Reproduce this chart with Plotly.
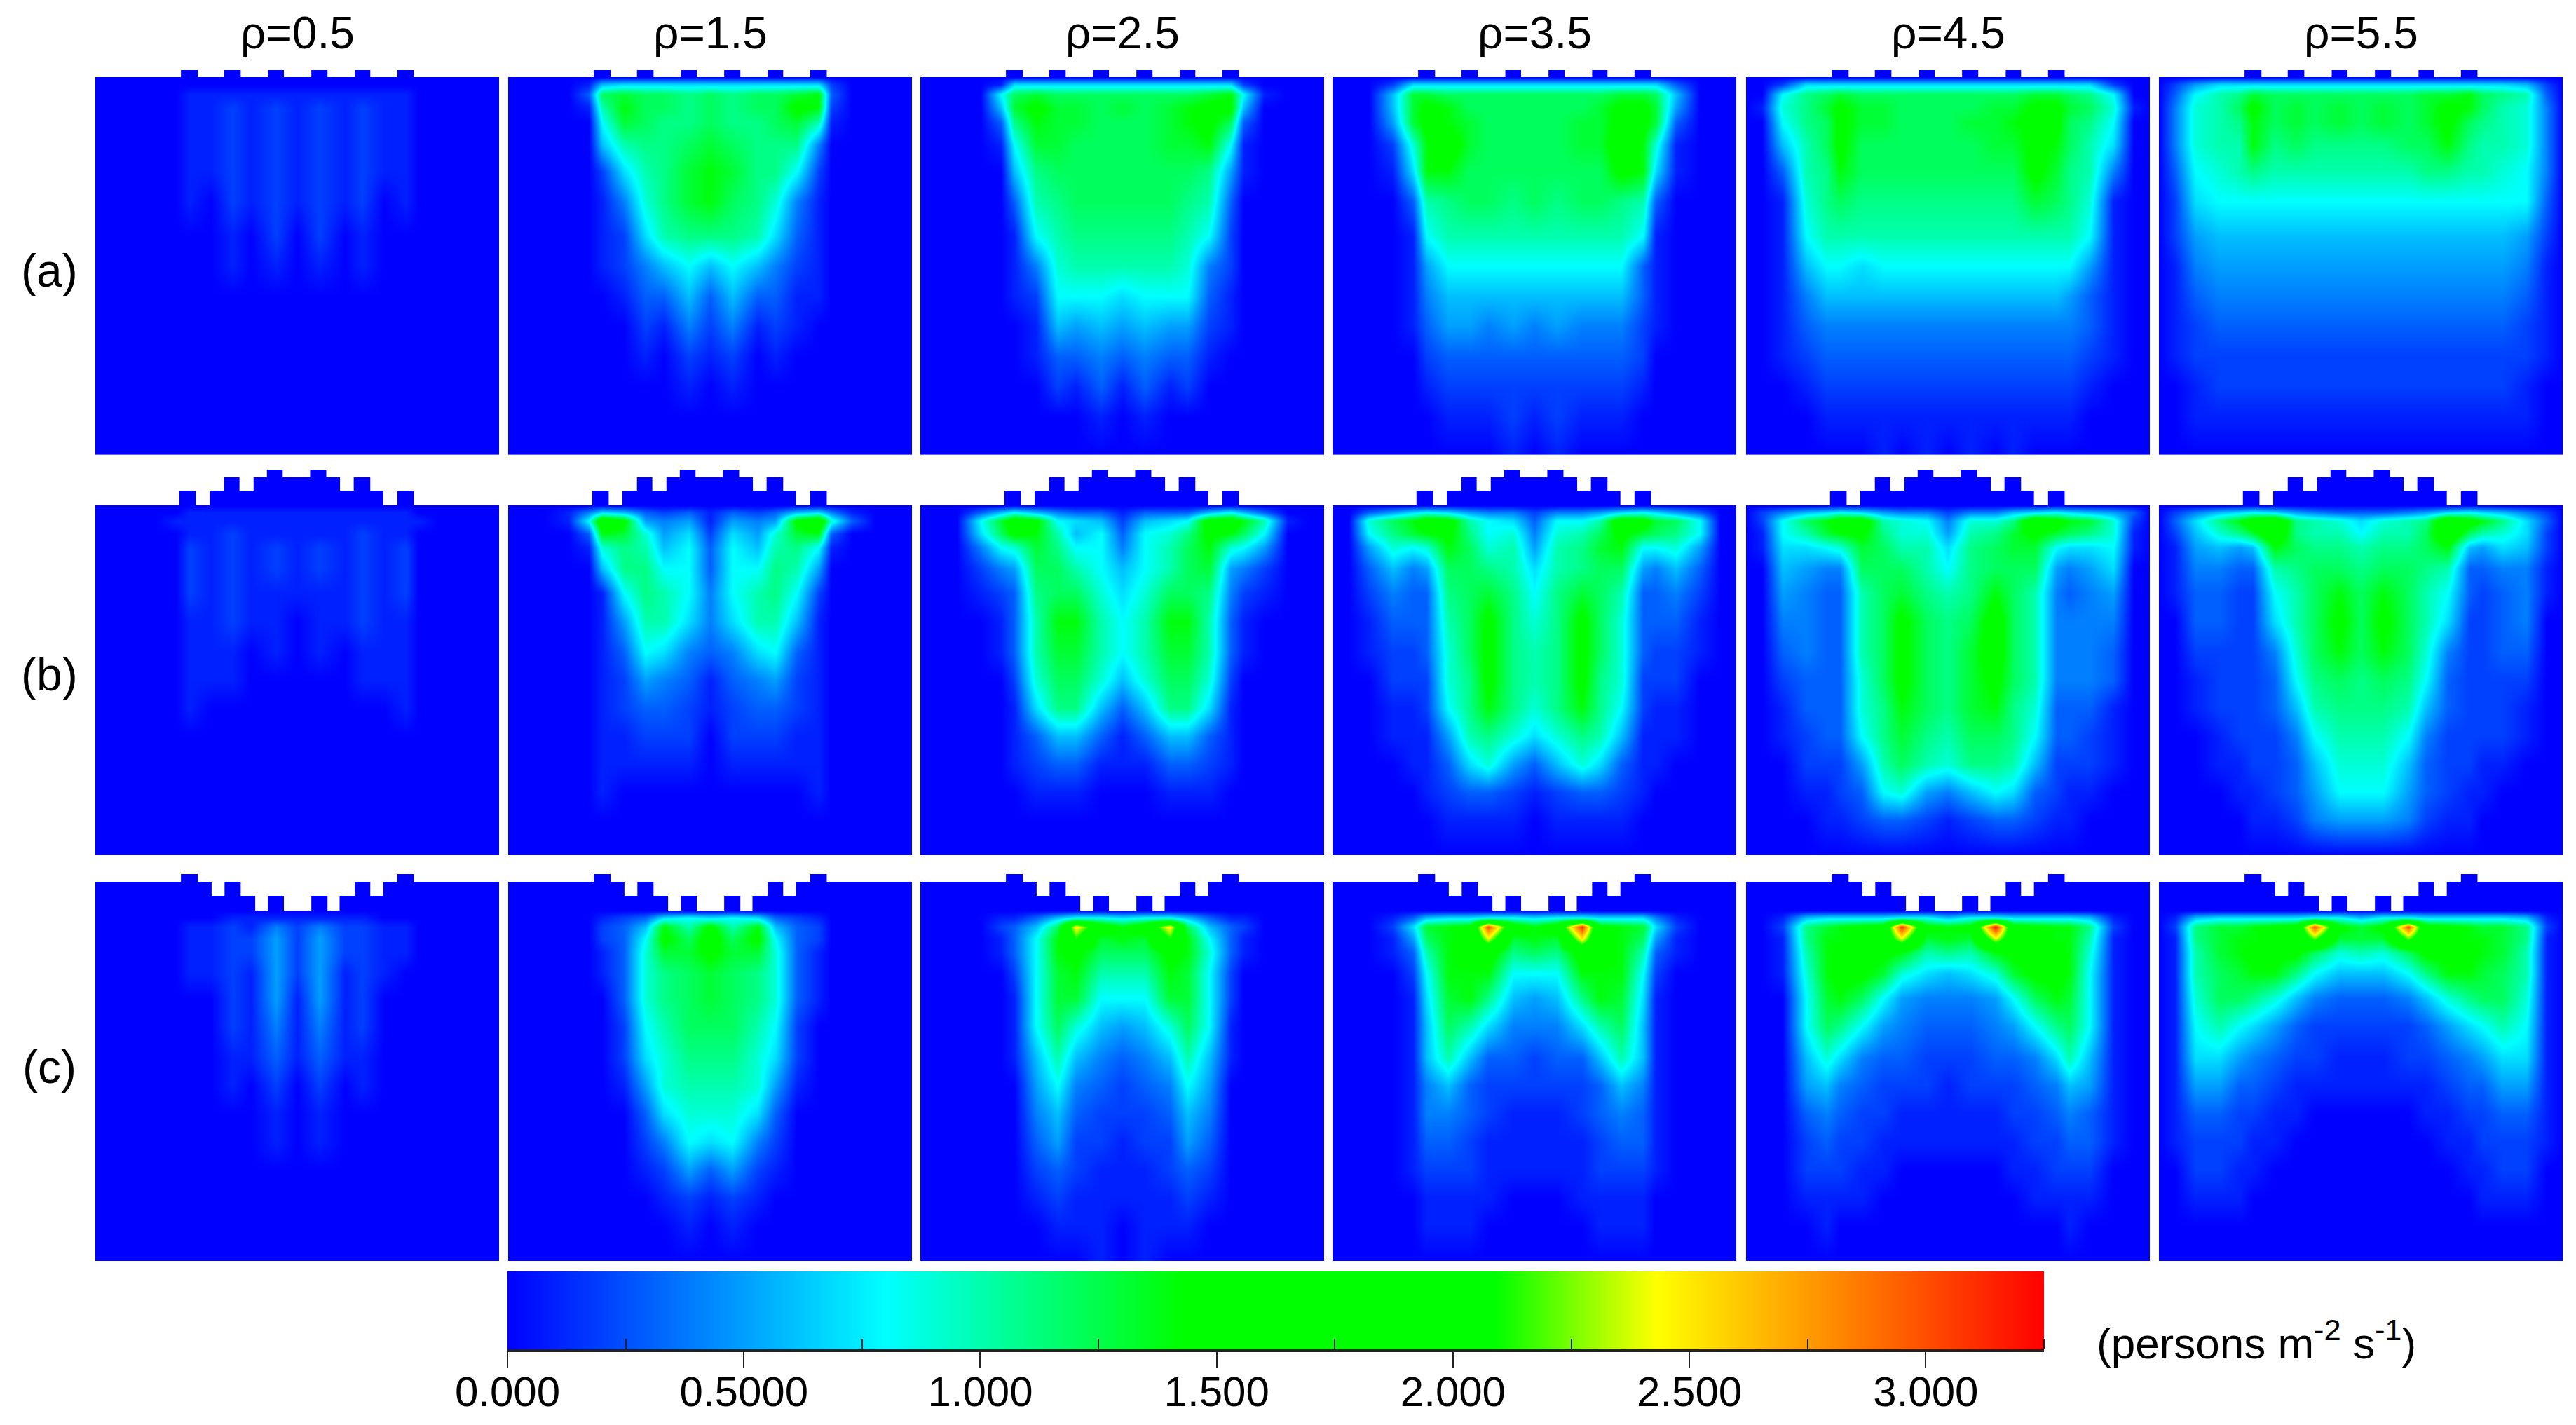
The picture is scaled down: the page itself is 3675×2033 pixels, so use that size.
import plotly.graph_objects as go

W, H = 3675, 2033
# grid of the estimated flow field, as fractions of a panel's width / height
XS = [0,.04,.09,.15,.2,.233,.286,.34,.385,.448,.5,.555,.618,.662,.715,.769,.8,.85,.91,.96,1]
YS = [0,.02,.045,.08,.12,.18,.25,.33,.42,.5,.58,.66,.74,.82,.9,1]
Z0 = [0]*21
# values in tenths of persons m-2 s-1
A05 = [Z0,Z0,
[0,0,0,0,0,1,1,1,1,1,1,1,1,1,1,1,0,0,0,0,0],
[0,0,0,0,0,1,1,2,1,2,1,2,1,2,1,1,0,0,0,0,0],
[0,0,0,0,0,1,1,2,1,2,1,2,1,2,1,1,0,0,0,0,0],
[0,0,0,0,0,1,1,2,1,2,1,2,1,2,1,1,0,0,0,0,0],
[0,0,0,0,0,1,1,2,1,2,1,2,1,2,1,1,0,0,0,0,0],
[0,0,0,0,0,1,0,2,1,2,1,2,1,2,0,1,0,0,0,0,0],
[0,0,0,0,0,0,0,1,0,2,0,2,0,1,0,0,0,0,0,0,0],
[0,0,0,0,0,0,0,1,0,1,0,1,0,1,0,0,0,0,0,0,0],Z0,Z0,Z0,Z0,Z0,Z0]
A15 = [Z0,
[0,0,0,0,1,6,7,7,7,7,7,7,7,7,7,7,2,0,0,0,0],
[0,0,0,0,3,12,13,12,12,11,12,11,12,12,13,14,3,0,0,0,0],
[0,0,0,0,1,10,14,12,12,11,12,11,12,12,15,14,2,0,0,0,0],
[0,0,0,0,0,8,13,12,11,11,12,11,11,12,13,10,1,0,0,0,0],
[0,0,0,0,0,6,10,11,11,12,13,12,11,11,11,4,0,0,0,0,0],
[0,0,0,0,0,2,7,10,11,13,14,13,11,11,8,2,0,0,0,0,0],
[0,0,0,0,0,1,4,9,11,13,14,12,11,9,4,1,0,0,0,0,0],
[0,0,0,0,0,1,2,7,10,11,11,11,10,7,3,1,0,0,0,0,0],
[0,0,0,0,0,1,2,4,6,8,6,8,6,4,2,1,0,0,0,0,0],
[0,0,0,0,0,0,1,3,3,6,3,6,3,3,1,1,0,0,0,0,0],
[0,0,0,0,0,0,0,2,1,4,2,4,1,2,1,0,0,0,0,0,0],
[0,0,0,0,0,0,0,1,0,2,1,2,0,1,0,0,0,0,0,0,0],
[0,0,0,0,0,0,0,0,0,1,0,1,0,0,0,0,0,0,0,0,0],Z0,Z0]
A25 = [Z0,
[0,0,0,0,1,7,7,7,7,7,7,7,7,7,7,7,2,0,0,0,0],
[0,0,0,0,8,12,13,12,12,12,12,12,12,12,13,14,8,1,0,0,0],
[0,0,0,0,6,13,15,13,13,12,13,12,13,14,15,15,6,0,0,0,0],
[0,0,0,0,3,11,14,13,13,12,12,12,13,14,15,12,3,0,0,0,0],
[0,0,0,0,1,8,13,13,12,12,12,12,13,13,14,8,1,0,0,0,0],
[0,0,0,0,0,6,11,12,12,12,12,12,12,12,11,5,1,0,0,0,0],
[0,0,0,0,0,3,10,11,12,12,12,12,12,11,10,3,0,0,0,0,0],
[0,0,0,0,0,1,8,10,11,11,11,11,11,10,8,2,0,0,0,0,0],
[0,0,0,0,0,1,4,9,10,10,10,10,10,9,4,2,0,0,0,0,0],
[0,0,0,0,0,1,2,8,8,8,7,8,8,8,3,1,0,0,0,0,0],
[0,0,0,0,0,0,1,6,5,6,5,6,5,5,2,1,0,0,0,0,0],
[0,0,0,0,0,0,1,3,3,4,3,4,3,3,1,0,0,0,0,0,0],
[0,0,0,0,0,0,0,2,1,3,1,3,1,2,0,0,0,0,0,0,0],
[0,0,0,0,0,0,0,0,0,1,0,1,0,0,0,0,0,0,0,0,0],Z0]
A35 = [Z0,
[0,0,0,2,7,7,7,7,7,7,7,7,7,7,7,7,7,3,0,0,0],
[0,0,0,6,13,13,12,12,12,12,12,12,12,12,13,13,12,6,0,0,0],
[0,0,0,6,13,15,14,12,12,12,12,12,12,13,15,15,13,5,0,0,0],
[0,0,0,5,13,15,14,13,12,12,12,12,13,13,15,15,13,3,0,0,0],
[0,0,0,2,9,14,16,13,12,12,12,12,13,13,16,14,9,1,0,0,0],
[0,0,0,1,7,14,14,12,12,12,12,12,12,12,15,14,7,1,0,0,0],
[0,0,0,0,3,10,11,12,12,11,12,11,12,12,11,10,3,0,0,0,0],
[0,0,0,0,1,8,10,10,10,10,10,10,10,10,10,8,1,0,0,0,0],
[0,0,0,0,1,5,8,8,8,8,8,8,8,8,8,3,1,0,0,0,0],
[0,0,0,0,1,4,6,6,6,6,6,6,6,6,6,3,1,0,0,0,0],
[0,0,0,0,1,3,5,5,4,5,4,5,4,4,4,2,1,0,0,0,0],
[0,0,0,0,0,2,3,3,3,3,3,3,3,3,3,2,0,0,0,0,0],
[0,0,0,0,0,1,2,2,2,2,2,2,2,2,2,1,0,0,0,0,0],
[0,0,0,0,0,0,1,1,1,2,1,2,1,1,1,0,0,0,0,0,0],
[0,0,0,0,0,0,0,0,0,1,0,1,0,0,0,0,0,0,0,0,0]]
A45 = [Z0,
[0,0,2,7,7,7,7,7,7,7,7,7,7,7,7,7,7,7,2,0,0],
[0,0,8,11,12,13,12,12,12,12,12,12,12,12,13,13,12,11,8,0,0],
[0,1,9,11,13,15,13,13,12,12,12,12,13,13,15,15,13,12,9,1,0],
[0,0,8,11,12,15,13,13,12,12,12,13,13,14,15,15,12,11,8,0,0],
[0,0,6,10,12,15,12,12,12,12,12,12,13,13,15,14,12,10,7,0,0],
[0,0,3,10,11,14,12,12,12,12,12,12,12,12,15,13,11,10,4,0,0],
[0,0,1,9,11,12,11,11,11,11,11,11,11,11,13,12,11,9,1,0,0],
[0,0,1,8,10,10,10,10,10,10,10,10,10,10,10,10,10,8,1,0,0],
[0,0,1,6,8,8,7,8,8,8,8,8,8,8,8,8,8,5,1,0,0],
[0,0,1,4,6,6,6,6,6,6,6,6,6,6,6,6,5,3,1,0,0],
[0,0,1,3,4,4,4,4,4,4,4,4,4,4,4,4,4,3,1,0,0],
[0,0,1,2,3,3,3,3,3,3,3,3,3,3,3,3,3,2,1,0,0],
[0,0,0,1,2,2,2,2,2,2,2,2,2,2,2,2,2,1,0,0,0],
[0,0,0,0,1,1,1,1,1,1,1,1,1,1,1,1,1,0,0,0,0],
[0,0,0,0,0,0,0,1,0,1,0,1,0,1,0,0,0,0,0,0,0]]
A55 = [Z0,
[0,2,5,7,7,7,7,7,7,7,7,7,7,7,7,7,7,7,6,2,0],
[0,3,8,10,11,13,12,12,12,12,12,12,12,13,13,14,12,11,10,3,0],
[0,4,9,10,12,15,12,13,12,13,12,13,12,13,15,14,12,10,9,4,0],
[0,4,9,10,11,14,12,13,12,13,12,13,12,13,15,12,11,10,9,4,0],
[0,4,9,10,10,14,11,12,11,11,11,11,12,12,14,11,10,10,9,4,0],
[0,3,8,9,10,11,10,10,10,10,10,10,10,11,11,10,10,9,8,4,0],
[0,2,7,8,8,8,8,8,8,8,8,8,8,8,8,8,8,8,8,3,0],
[0,2,5,6,6,6,6,6,6,6,6,6,6,6,6,6,6,6,5,2,0],
[0,1,4,5,5,5,5,5,5,5,5,5,5,5,5,5,5,5,4,1,0],
[0,1,3,4,4,4,4,4,4,4,4,4,4,4,4,4,4,4,3,1,0],
[0,1,2,3,3,3,3,3,3,3,3,3,3,3,3,3,3,3,2,1,0],
[0,1,2,2,2,2,2,2,2,2,2,2,2,2,2,2,2,2,2,1,0],
[0,0,1,2,2,2,2,2,2,2,2,2,2,2,2,2,2,2,1,0,0],
[0,0,1,1,1,1,1,1,1,1,1,1,1,1,1,1,1,1,1,0,0],Z0]
B05 = [Z0,
[0,0,0,0,0,1,1,1,1,1,1,1,1,1,1,1,0,0,0,0,0],
[0,0,0,0,1,1,1,1,1,1,1,1,1,1,1,1,1,0,0,0,0],
[0,0,0,0,0,1,1,2,1,1,1,1,1,2,1,1,0,0,0,0,0],
[0,0,0,0,0,2,1,2,1,2,1,2,1,2,1,2,0,0,0,0,0],
[0,0,0,0,0,2,1,2,1,2,1,2,1,2,1,2,0,0,0,0,0],
[0,0,0,0,0,2,1,2,1,1,1,1,1,2,1,2,0,0,0,0,0],
[0,0,0,0,0,1,1,2,1,1,0,1,1,2,1,1,0,0,0,0,0],
[0,0,0,0,0,1,1,1,0,1,0,1,0,1,1,1,0,0,0,0,0],
[0,0,0,0,0,1,1,1,0,0,0,0,0,1,1,1,0,0,0,0,0],
[0,0,0,0,0,1,0,0,0,0,0,0,0,0,0,1,0,0,0,0,0],Z0,Z0,Z0,Z0,Z0]
B15 = [Z0,
[0,0,0,1,4,7,6,3,2,3,1,3,2,3,6,7,4,1,0,0,0],
[0,0,0,1,8,18,15,5,4,5,1,5,4,5,15,18,9,3,0,0,0],
[0,0,0,0,3,14,13,9,5,7,2,7,5,9,13,14,3,0,0,0,0],
[0,0,0,0,1,9,11,10,6,8,3,8,6,10,11,8,1,0,0,0,0],
[0,0,0,0,0,6,11,11,8,8,3,8,8,11,10,5,0,0,0,0,0],
[0,0,0,0,0,1,8,11,10,8,4,8,10,11,8,2,0,0,0,0,0],
[0,0,0,0,0,1,5,10,10,7,4,7,10,10,6,1,0,0,0,0,0],
[0,0,0,0,0,1,3,8,7,4,3,4,7,8,3,1,0,0,0,0,0],
[0,0,0,0,0,1,2,5,4,3,1,3,4,5,2,1,0,0,0,0,0],
[0,0,0,0,0,1,2,3,3,2,1,2,3,3,2,1,0,0,0,0,0],
[0,0,0,0,0,1,1,2,2,2,0,2,2,2,1,1,0,0,0,0,0],
[0,0,0,0,0,1,1,1,1,1,0,1,1,1,1,1,0,0,0,0,0],
[0,0,0,0,0,1,0,0,0,0,0,0,0,0,0,1,0,0,0,0,0],Z0,Z0]
B25 = [Z0,
[0,0,0,3,6,8,6,4,3,3,1,3,3,3,6,8,6,3,0,0,0],
[0,0,0,8,13,17,15,8,7,6,2,6,7,8,16,17,14,10,1,0,0],
[0,0,0,7,12,15,14,10,6,8,3,8,9,11,15,14,12,8,0,0,0],
[0,0,0,4,8,9,13,11,8,8,4,8,10,12,14,9,8,5,0,0,0],
[0,0,0,2,4,5,12,12,10,8,6,8,10,12,13,5,4,2,0,0,0],
[0,0,0,1,2,3,11,12,12,9,7,9,12,12,11,4,2,1,0,0,0],
[0,0,0,0,1,3,10,14,14,10,8,10,14,14,10,3,1,0,0,0,0],
[0,0,0,0,1,3,10,13,13,10,8,10,13,13,10,3,1,0,0,0,0],
[0,0,0,0,0,2,9,12,12,9,6,9,12,12,9,2,0,0,0,0,0],
[0,0,0,0,0,1,7,11,11,6,3,6,11,11,7,1,0,0,0,0,0],
[0,0,0,0,0,1,3,6,6,3,1,3,6,6,3,1,0,0,0,0,0],
[0,0,0,0,0,1,2,3,3,1,1,1,3,3,2,1,0,0,0,0,0],
[0,0,0,0,0,0,1,1,1,0,0,0,1,1,1,0,0,0,0,0,0],Z0,Z0]
B35 = [Z0,
[0,0,3,5,7,8,7,5,4,4,2,4,4,5,7,8,7,5,3,0,0],
[0,0,9,12,14,17,16,10,8,7,3,8,8,10,17,16,13,12,8,0,0],
[0,0,8,11,13,14,15,11,8,9,4,9,10,12,15,13,12,11,8,0,0],
[0,0,5,9,8,9,14,12,9,10,5,10,11,13,14,8,8,9,5,0,0],
[0,0,3,6,4,5,12,12,11,10,7,10,11,12,12,5,4,6,3,0,0],
[0,0,2,4,3,3,11,12,13,11,8,11,13,12,10,3,3,4,2,0,0],
[0,0,1,3,3,3,10,12,15,11,9,11,15,12,9,3,3,3,1,0,0],
[0,0,1,2,2,3,9,12,15,11,10,11,15,12,9,3,2,2,1,0,0],
[0,0,0,2,2,2,9,11,15,11,10,11,15,11,9,2,2,2,0,0,0],
[0,0,0,1,1,2,8,11,14,11,9,11,14,11,8,2,1,1,0,0,0],
[0,0,0,1,1,1,5,10,11,9,7,9,11,10,6,1,1,1,0,0,0],
[0,0,0,0,1,1,3,7,9,5,3,6,9,7,3,1,1,0,0,0,0],
[0,0,0,0,0,1,2,3,3,2,1,2,3,3,2,1,0,0,0,0,0],
[0,0,0,0,0,0,1,1,1,1,0,1,1,1,1,0,0,0,0,0,0],Z0]
B45 = [Z0,
[0,2,4,6,7,8,7,5,4,4,2,4,4,6,7,8,7,6,5,3,0],
[0,2,8,12,14,17,17,10,9,8,4,9,9,11,18,16,14,13,9,2,0],
[0,1,8,10,13,14,15,11,9,9,5,10,11,13,15,13,12,11,9,1,0],
[0,1,7,7,8,9,13,12,10,10,7,11,12,13,13,8,7,7,8,1,0],
[0,0,6,5,4,4,12,12,12,10,8,11,12,12,12,5,4,5,7,0,0],
[0,0,5,4,3,3,10,12,13,11,10,11,14,12,10,4,3,4,5,0,0],
[0,0,4,4,3,3,10,12,15,12,11,12,16,12,10,4,4,4,4,0,0],
[0,0,3,4,3,3,10,12,15,12,11,13,16,12,10,4,4,4,3,0,0],
[0,0,2,3,3,3,9,12,15,12,11,13,15,12,10,4,4,4,3,0,0],
[0,0,1,3,3,3,9,11,14,12,11,13,14,11,9,3,3,3,1,0,0],
[0,0,1,2,3,3,8,11,13,11,10,12,12,11,8,3,3,2,1,0,0],
[0,0,0,2,2,2,5,10,12,10,9,11,11,10,6,2,2,2,1,0,0],
[0,0,0,1,1,2,3,8,9,5,4,6,8,7,3,2,1,1,0,0,0],
[0,0,0,0,1,1,2,3,3,2,1,2,3,3,2,1,1,0,0,0,0],Z0]
B55 = [Z0,
[0,2,4,6,7,8,7,5,4,3,3,3,4,5,7,8,7,6,4,2,0],
[0,3,7,11,14,17,19,11,10,9,7,9,10,11,19,16,14,11,7,3,0],
[0,2,6,9,11,13,18,11,10,10,8,10,10,12,18,12,10,9,7,2,0],
[0,1,5,6,5,6,14,12,11,11,10,11,11,12,14,6,5,7,6,2,0],
[0,1,4,4,3,3,10,11,12,12,11,12,12,11,10,3,3,4,4,1,0],
[0,1,3,3,2,2,8,10,12,14,12,14,12,10,8,3,2,3,4,1,0],
[0,0,3,3,2,2,7,10,12,15,12,15,12,10,7,2,2,3,4,0,0],
[0,0,2,2,2,2,4,9,12,14,12,14,12,9,4,2,2,3,3,0,0],
[0,0,1,2,2,2,3,8,11,12,11,12,11,8,3,2,2,2,2,0,0],
[0,0,1,2,2,2,3,6,10,11,11,11,10,6,3,2,2,2,1,0,0],
[0,0,0,1,2,2,2,4,8,10,10,10,8,4,2,2,2,2,1,0,0],
[0,0,0,1,1,2,2,3,6,9,9,9,6,3,2,2,1,1,0,0,0],
[0,0,0,0,1,1,2,3,5,8,8,8,5,3,2,1,1,0,0,0,0],
[0,0,0,0,0,1,1,2,4,5,5,5,4,2,1,1,0,0,0,0,0],Z0]
C05 = [Z0,
[0,0,0,0,0,0,0,1,1,1,1,1,1,1,0,0,0,0,0,0,0],
[0,0,0,0,0,1,1,2,1,4,2,4,2,2,1,1,0,0,0,0,0],
[0,0,0,0,0,1,1,2,2,5,2,5,2,2,1,1,0,0,0,0,0],
[0,0,0,0,0,1,1,2,2,5,2,5,2,2,1,1,0,0,0,0,0],
[0,0,0,0,0,1,1,2,1,5,2,5,1,2,1,0,0,0,0,0,0],
[0,0,0,0,0,0,0,2,1,5,1,5,1,2,0,0,0,0,0,0,0],
[0,0,0,0,0,0,0,2,1,4,1,4,1,2,0,0,0,0,0,0,0],
[0,0,0,0,0,0,0,1,1,3,1,3,1,1,0,0,0,0,0,0,0],
[0,0,0,0,0,0,0,1,0,2,0,2,0,1,0,0,0,0,0,0,0],
[0,0,0,0,0,0,0,0,0,1,0,1,0,0,0,0,0,0,0,0,0],
[0,0,0,0,0,0,0,0,0,1,0,1,0,0,0,0,0,0,0,0,0],Z0,Z0,Z0,Z0]
C15 = [Z0,
[0,0,0,0,0,1,2,3,7,8,7,8,7,3,2,1,0,0,0,0,0],
[0,0,0,0,0,2,3,6,14,10,15,10,14,6,3,2,0,0,0,0,0],
[0,0,0,0,0,2,3,8,15,12,16,12,15,8,3,2,0,0,0,0,0],
[0,0,0,0,0,1,3,9,13,13,15,13,13,9,3,1,0,0,0,0,0],
[0,0,0,0,0,1,3,9,11,12,13,12,11,9,3,1,0,0,0,0,0],
[0,0,0,0,0,0,3,9,11,12,13,12,11,9,3,1,0,0,0,0,0],
[0,0,0,0,0,0,2,8,10,12,12,12,10,8,2,0,0,0,0,0,0],
[0,0,0,0,0,0,2,7,9,11,11,11,9,7,2,0,0,0,0,0,0],
[0,0,0,0,0,0,1,5,9,10,10,10,9,5,1,0,0,0,0,0,0],
[0,0,0,0,0,0,0,3,7,9,9,9,7,3,0,0,0,0,0,0,0],
[0,0,0,0,0,0,0,2,4,8,7,8,4,2,0,0,0,0,0,0,0],
[0,0,0,0,0,0,0,1,2,5,3,5,2,1,0,0,0,0,0,0,0],
[0,0,0,0,0,0,0,0,1,2,1,2,1,0,0,0,0,0,0,0,0],
[0,0,0,0,0,0,0,0,0,1,0,1,0,0,0,0,0,0,0,0,0],Z0]
C25 = [Z0,
[0,0,0,0,1,1,3,6,8,8,7,8,8,6,3,1,1,0,0,0,0],
[0,0,0,0,2,3,6,12,25,17,14,17,25,12,6,3,2,0,0,0,0],
[0,0,0,0,1,3,8,14,21,13,14,13,21,14,8,3,1,0,0,0,0],
[0,0,0,0,1,3,8,14,15,12,12,12,15,14,9,3,1,0,0,0,0],
[0,0,0,0,0,2,8,13,14,10,10,10,14,13,8,2,0,0,0,0,0],
[0,0,0,0,0,1,8,13,13,8,8,8,13,13,8,2,0,0,0,0,0],
[0,0,0,0,0,1,8,12,9,6,5,6,9,12,8,1,0,0,0,0,0],
[0,0,0,0,0,1,6,10,6,4,3,4,6,10,6,1,0,0,0,0,0],
[0,0,0,0,0,0,5,8,4,3,2,3,4,8,5,0,0,0,0,0,0],
[0,0,0,0,0,0,4,6,3,2,2,2,3,6,4,0,0,0,0,0,0],
[0,0,0,0,0,0,3,5,2,2,1,2,2,5,3,0,0,0,0,0,0],
[0,0,0,0,0,0,2,3,2,1,1,1,2,3,2,0,0,0,0,0,0],
[0,0,0,0,0,0,1,2,1,1,1,1,1,2,1,0,0,0,0,0,0],
[0,0,0,0,0,0,0,1,1,1,0,1,1,1,0,0,0,0,0,0,0],
[0,0,0,0,0,0,0,0,0,1,0,1,0,0,0,0,0,0,0,0,0]]
C35 = [Z0,
[0,0,0,1,3,6,7,7,8,8,7,8,8,7,7,7,4,1,0,0,0],
[0,0,0,2,7,13,14,15,30,17,14,17,31,15,14,13,7,2,0,0,0],
[0,0,0,1,5,12,14,15,24,13,14,13,25,15,14,12,5,1,0,0,0],
[0,0,0,1,3,10,14,15,16,11,12,11,16,15,14,10,3,1,0,0,0],
[0,0,0,0,2,8,14,14,14,8,8,8,14,14,14,8,2,0,0,0,0],
[0,0,0,0,1,7,13,14,11,6,5,6,11,14,13,7,1,0,0,0,0],
[0,0,0,0,1,6,12,10,7,4,4,4,7,10,12,6,1,0,0,0,0],
[0,0,0,0,1,6,10,6,3,3,2,3,3,6,10,6,1,0,0,0,0],
[0,0,0,0,1,4,6,3,2,2,2,2,2,3,6,4,1,0,0,0,0],
[0,0,0,0,1,4,4,3,2,1,1,1,2,3,4,3,1,0,0,0,0],
[0,0,0,0,1,3,3,2,1,1,1,1,1,2,3,3,1,0,0,0,0],
[0,0,0,0,1,2,2,2,1,1,1,1,1,2,2,2,1,0,0,0,0],
[0,0,0,0,0,1,1,1,1,0,0,0,1,1,1,1,0,0,0,0,0],
[0,0,0,0,0,1,1,1,0,0,0,0,0,1,1,1,0,0,0,0,0],Z0]
C45 = [Z0,
[0,0,1,6,7,7,7,7,8,8,6,8,8,7,7,7,7,6,1,0,0],
[0,0,2,11,13,14,15,16,31,15,14,15,32,16,15,14,14,11,2,0,0],
[0,0,1,11,14,14,15,17,24,13,14,13,24,17,15,14,14,10,1,0,0],
[0,0,1,10,14,15,15,15,14,10,11,10,14,15,15,15,14,9,1,0,0],
[0,0,1,9,14,15,15,13,9,7,6,7,9,13,15,15,14,8,1,0,0],
[0,0,0,8,13,14,12,8,5,4,4,4,5,8,12,14,13,8,1,0,0],
[0,0,0,8,12,11,8,5,4,3,3,3,4,5,8,11,12,8,1,0,0],
[0,0,0,6,9,7,4,3,3,2,2,2,3,3,4,7,10,6,1,0,0],
[0,0,0,5,6,4,3,2,2,2,1,2,2,2,3,4,6,5,1,0,0],
[0,0,0,3,4,3,2,2,1,1,1,1,1,2,2,3,4,3,1,0,0],
[0,0,0,2,3,2,2,1,1,1,1,1,1,1,2,2,3,3,1,0,0],
[0,0,0,2,2,2,1,1,0,0,0,0,0,1,1,2,2,2,0,0,0],
[0,0,0,1,1,1,1,0,0,0,0,0,0,0,1,1,1,1,0,0,0],
[0,0,0,0,1,0,0,0,0,0,0,0,0,0,0,0,1,0,0,0,0],Z0]
C55 = [Z0,
[0,1,6,7,7,7,7,7,8,8,6,8,8,7,7,7,7,7,6,1,0],
[0,2,11,13,13,14,15,16,30,15,13,15,30,16,15,14,13,13,11,2,0],
[0,1,11,13,14,14,15,16,22,13,13,13,22,16,15,14,14,13,11,1,0],
[0,1,10,13,14,15,15,15,12,9,10,9,12,15,15,15,14,13,10,1,0],
[0,1,10,12,13,14,14,11,8,6,6,6,8,11,14,14,13,12,10,1,0],
[0,1,9,12,12,11,9,6,4,3,3,3,4,6,9,11,12,12,9,1,0],
[0,1,8,10,8,7,5,3,2,2,2,2,2,3,5,7,8,10,8,1,0],
[0,1,7,7,5,4,3,2,2,1,1,1,2,2,3,4,5,7,7,1,0],
[0,1,5,5,3,3,2,1,1,1,1,1,1,1,2,3,3,5,5,1,0],
[0,1,3,3,2,2,1,1,0,0,0,0,0,1,1,2,2,3,3,1,0],
[0,1,2,2,2,1,1,0,0,0,0,0,0,0,1,1,2,2,2,1,0],
[0,0,2,2,1,1,0,0,0,0,0,0,0,0,0,1,1,2,2,0,0],
[0,0,1,1,1,0,0,0,0,0,0,0,0,0,0,0,1,1,1,0,0],Z0,Z0]
ROWS = [[A05,A15,A25,A35,A45,A55],[B05,B15,B25,B35,B45,B55],[C05,C15,C25,C35,C45,C55]]

RHO = ["ρ=0.5","ρ=1.5","ρ=2.5","ρ=3.5","ρ=4.5","ρ=5.5"]
ROW_LABELS = ["(a)","(b)","(c)"]
CB_TICKS = [0,.5,1,1.5,2,2.5,3]
CB_LABELS = ["0.000","0.5000","1.000","1.500","2.000","2.500","3.000"]
CB_RANGE = [0,3.25]
COLORSCALE = [[0,"#0000ff"],[.8/3.25,"#00ffff"],[1.43/3.25,"#00ff00"],[2.09/3.25,"#00ff00"],
              [2.43/3.25,"#ffff00"],[1,"#ff0000"]]

# layout in pixels
COL_LEFT = [136,725,1313,1901,2491,3080]
PANEL_W = 576
# heat-map top, bottom, extra space above it for exits
ROW_TOP = [110,721,1299]; ROW_BOT = [649,1220,1799]; ROW_EXTRA = [10,51,52]
DOORS = [(.214,.252),(.321,.358),(.430,.465),(.537,.573),(.645,.679),(.750,.787)]
STEP_A = [(a,b,10) for a,b in DOORS]
STEP_B = [(.21,.247,21),(.285,.321,21),(.321,.355,40),(.355,.394,21),(.394,.427,40),(.427,.462,51),
          (.462,.534,40),(.534,.57,51),(.57,.604,40),(.604,.642,21),(.642,.679,40),(.679,.711,21),(.75,.787,21)]
STEP_C = [(0,.214,41),(.214,.252,52),(.252,.286,41),(.286,.322,21),(.322,.358,41),(.358,.394,21),
          (.43,.465,21),(.537,.573,21),(.607,.645,21),(.645,.679,41),(.679,.715,21),(.715,.75,41),
          (.75,.787,52),(.787,1,41)]
STEPS = [STEP_A,STEP_B,STEP_C]

fig = go.Figure()
layout = dict(width=W,height=H,margin=dict(l=0,r=0,t=0,b=0,autoexpand=False),paper_bgcolor="white",plot_bgcolor="white",showlegend=False)
shapes = []; ann = []
idx = 0
for r in range(3):
    top,bot,ex = ROW_TOP[r],ROW_BOT[r],ROW_EXTRA[r]
    h = bot-top
    for c in range(6):
        idx += 1
        sx = "" if idx==1 else str(idx)
        z = [[v/10 for v in (row+[0]*21)[:21]] for row in ROWS[r][c]]
        fig.add_trace(go.Heatmap(x=XS,y=[f*h for f in YS],z=z,zmin=0,zmax=3.25,zsmooth="best",
                                 colorscale=COLORSCALE,showscale=False,xaxis="x"+sx,yaxis="y"+sx,hoverinfo="skip"))
        l = COL_LEFT[c]
        layout["xaxis"+sx] = dict(domain=[l/W,(l+PANEL_W)/W],range=[0,1],visible=False,anchor="y"+sx,fixedrange=True)
        layout["yaxis"+sx] = dict(domain=[1-bot/H,1-(top-ex)/H],range=[h,-ex],visible=False,anchor="x"+sx,fixedrange=True)
        shapes.append(dict(type="rect",xref="x"+sx,yref="y"+sx,x0=0,x1=1,y0=-ex,y1=0,fillcolor="white",line_width=0,layer="above"))
        for a,b,up in STEPS[r]:
            shapes.append(dict(type="rect",xref="x"+sx,yref="y"+sx,x0=a-.002,x1=b+.002,y0=-up,y1=1,fillcolor="#0000ff",line_width=0,layer="above"))

# colour bar drawn as its own small heat map with a real axis
cb = "19"
fig.add_trace(go.Heatmap(x=CB_RANGE,y=[0,1],z=[CB_RANGE,CB_RANGE],zmin=0,zmax=3.25,zsmooth="best",colorscale=COLORSCALE,
                         showscale=False,xaxis="x"+cb,yaxis="y"+cb,hoverinfo="skip"))
layout["xaxis"+cb] = dict(domain=[724/W,2916/W],range=CB_RANGE,anchor="y"+cb,tickmode="array",tickvals=CB_TICKS,ticktext=CB_LABELS,
    ticks="outside",ticklen=23,tickwidth=2,tickcolor="#222",showline=True,linecolor="#222",linewidth=4,showgrid=False,zeroline=False,
    ticklabelstandoff=-18,
    tickfont=dict(family="Liberation Sans",size=60,color="black"),fixedrange=True,
    minor=dict(ticks="inside",ticklen=15,tickwidth=2,tickcolor="#222",tickmode="linear",tick0=.25,dtick=.5,showgrid=False))
layout["yaxis"+cb] = dict(domain=[1-1925/H,1-1814/H],range=[0,1],visible=False,anchor="x"+cb,fixedrange=True)

F = dict(family="Liberation Sans",color="black")
def note(t,px,py,size):
    ann.append(dict(text=t,x=px/W,y=1-py/H,xref="paper",yref="paper",xanchor="center",yanchor="middle",showarrow=False,font=dict(size=size,**F)))
for c,t in enumerate(RHO):
    note(t,COL_LEFT[c]+PANEL_W/2,47,64)
for t,yy in zip(ROW_LABELS,[386,962,1522]):
    note(t,70,yy,66)
note("(persons m<sup>-2</sup> s<sup>-1</sup>)",3219,1912,62)
layout["shapes"]=shapes; layout["annotations"]=ann
fig.update_layout(**layout)
fig.write_html("out.html",config={"displayModeBar":False},post_script="document.body.style.margin='0';document.body.style.overflow='hidden';")
